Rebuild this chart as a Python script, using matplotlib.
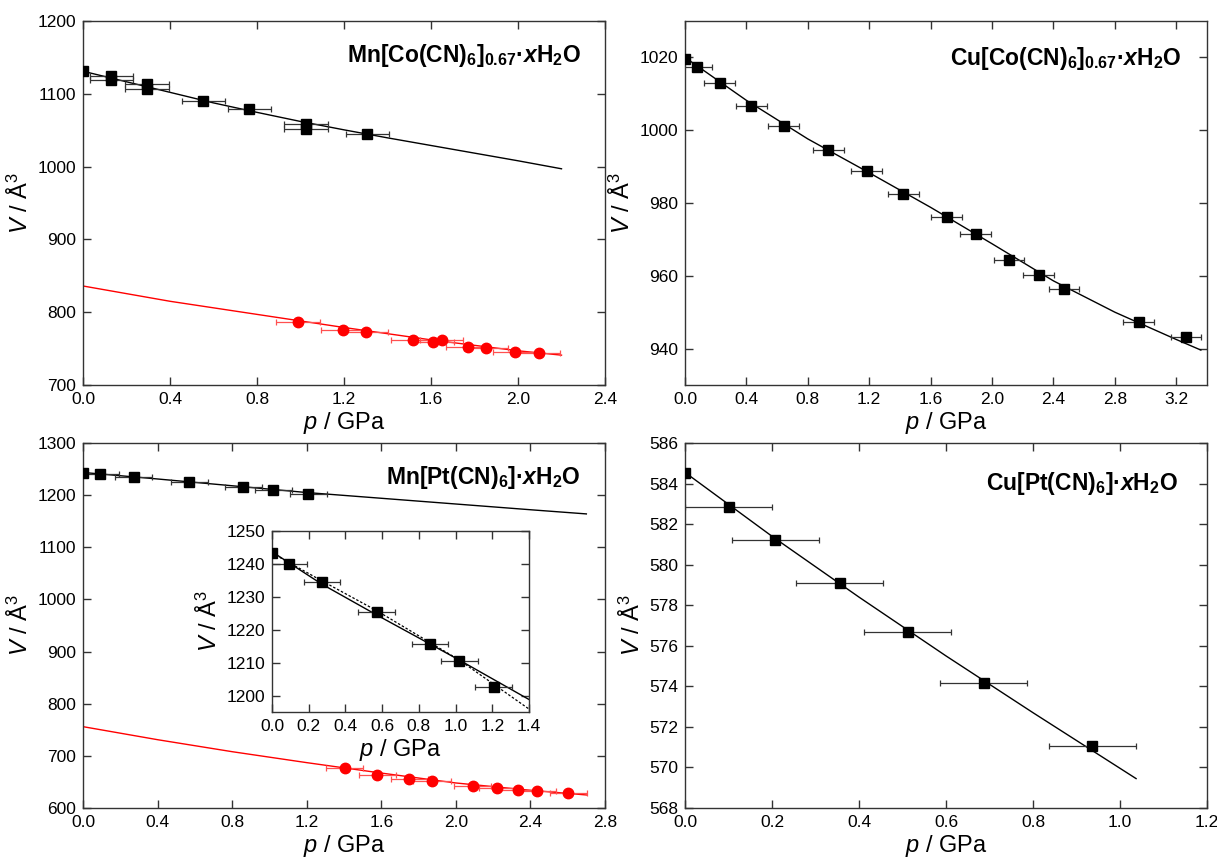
import matplotlib.pyplot as plt
from matplotlib.ticker import FormatStrFormatter, MultipleLocator

# -----------------------------
# Fonts
# -----------------------------
plt.rcParams['font.family'] = ['Liberation Sans', 'DejaVu Sans']
plt.rcParams['mathtext.fontset'] = 'custom'
plt.rcParams['mathtext.rm'] = 'Liberation Sans'
plt.rcParams['mathtext.it'] = 'Liberation Sans:italic'
plt.rcParams['mathtext.bf'] = 'Liberation Sans:bold'
plt.rcParams['mathtext.bfit'] = 'Liberation Sans:italic:bold'

# -----------------------------
# Data: Mn[Co(CN)6]0.67
# -----------------------------
mnco_p = [0.0, 0.13, 0.13, 0.295, 0.295, 0.553, 0.765, 1.026, 1.026, 1.307]
mnco_v = [1131.4, 1125.0, 1119.5, 1114.0, 1106.7, 1089.8, 1079.7, 1059.0, 1051.3, 1044.5]
mnco_err = [0, 0.1, 0.1, 0.1, 0.1, 0.1, 0.1, 0.1, 0.1, 0.1]
mnco_fit_p = [0, 0.2, 0.4, 0.6, 0.8, 1.0, 1.2, 1.4, 1.6, 1.8, 2.0, 2.2]
mnco_fit_v = [1131, 1116.5, 1102, 1087.5, 1074.5, 1062, 1050.5, 1039.5, 1029, 1018.5, 1008, 997]

mnco_hp_p = [0.988, 1.195, 1.302, 1.518, 1.607, 1.649, 1.768, 1.854, 1.986, 2.095]
mnco_hp_v = [786.0, 775.0, 773.2, 762.2, 759.5, 761.8, 752.6, 751.2, 745.7, 743.5]
mnco_hp_err = [0.1] * 10
mnco_hp_fit_p = [0, 0.4, 0.8, 1.2, 1.6, 2.0, 2.2]
mnco_hp_fit_v = [836, 815, 797, 779, 762, 747, 741]

# -----------------------------
# Data: Cu[Co(CN)6]0.67
# -----------------------------
cuco_p = [0.0, 0.077, 0.225, 0.433, 0.643, 0.934, 1.183, 1.423, 1.705, 1.894,
          2.110, 2.304, 2.468, 2.954, 3.264]
cuco_v = [1019.5, 1017.5, 1013.0, 1006.6, 1001.1, 994.5, 988.9, 982.6, 976.2, 971.4,
          964.3, 960.2, 956.5, 947.3, 943.3]
cuco_err = [0] + [0.1] * 14
cuco_fit_p = [0, 0.4, 0.8, 1.2, 1.6, 2.0, 2.4, 2.8, 3.2, 3.36]
cuco_fit_v = [1020, 1008.2, 997.6, 988.3, 978.8, 968.8, 958.6, 950.0, 942.5, 939.6]

# -----------------------------
# Data: Mn[Pt(CN)6]
# -----------------------------
mnpt_p = [0.0, 0.091, 0.272, 0.571, 0.860, 1.021, 1.208]
mnpt_v = [1243.2, 1240.1, 1234.6, 1225.3, 1215.7, 1210.5, 1202.6]
mnpt_err = [0, 0.1, 0.1, 0.1, 0.1, 0.1, 0.1]
mnpt_fit_p = [0, 0.4, 0.8, 1.2, 1.6, 2.0, 2.4, 2.7]
mnpt_fit_v = [1243.5, 1231, 1218, 1205, 1194, 1183, 1172, 1164]

mnpt_hp_p = [1.404, 1.578, 1.750, 1.872, 2.091, 2.222, 2.332, 2.436, 2.603]
mnpt_hp_v = [676.9, 664.0, 655.1, 651.2, 642.9, 638.4, 635.2, 633.3, 628.8]
mnpt_hp_err = [0.1] * 9
mnpt_hp_fit_p = [0, 0.4, 0.8, 1.2, 1.6, 2.0, 2.4, 2.7]
mnpt_hp_fit_v = [756, 731, 708, 687, 667, 648, 634, 625]

# inset fits
inset_solid_p = [0, 0.27, 0.57, 1.02, 1.4]
inset_solid_v = [1243.7, 1233.9, 1224.5, 1210.8, 1198.8]
inset_dash_p = [0, 0.27, 0.57, 1.02, 1.4]
inset_dash_v = [1243.3, 1234.9, 1225.8, 1210.8, 1195.9]

# -----------------------------
# Data: Cu[Pt(CN)6]
# -----------------------------
cupt_p = [0.0, 0.101, 0.207, 0.356, 0.512, 0.687, 0.936]
cupt_v = [584.50, 582.85, 581.24, 579.08, 576.66, 574.15, 571.07]
cupt_err = [0, 0.1, 0.1, 0.1, 0.1, 0.1, 0.1]
cupt_fit_p = [0, 0.2, 0.4, 0.6, 0.8, 1.037]
cupt_fit_v = [584.55, 581.4, 578.4, 575.5, 572.7, 569.45]

W, H = 1217, 859
fig = plt.figure(figsize=(W / 100, H / 100), dpi=100)


def make_axes(left, right, top, bottom):
    return fig.add_axes([left / W, 1 - bottom / H, (right - left) / W, (bottom - top) / H])


def style(ax, xlim, xstep, ylim, ystep, fmt_y='%d', tick_fs=12.5, lab_fs=17):
    ax.set_xlim(*xlim)
    ax.set_ylim(*ylim)
    ax.xaxis.set_major_locator(MultipleLocator(xstep))
    ax.yaxis.set_major_locator(MultipleLocator(ystep))
    ax.xaxis.set_major_formatter(FormatStrFormatter('%.1f'))
    ax.yaxis.set_major_formatter(FormatStrFormatter(fmt_y))
    ax.tick_params(direction='in', top=True, right=True, length=5.5, width=1,
                   labelsize=tick_fs, color='#333333', pad=5)
    for s in ax.spines.values():
        s.set_color('#333333')
        s.set_linewidth(1.0)
    ax.set_xlabel(r'$p$ / GPa', fontsize=lab_fs, labelpad=2)
    ax.set_ylabel(r'$V$ / Å$^3$', fontsize=lab_fs, labelpad=3)


def black_set(ax, p, v, err, fp, fv, ms=6.5):
    ax.plot(fp, fv, color='black', lw=1.0, zorder=2)
    ax.errorbar(p, v, xerr=err, fmt='none', ecolor='#333333', elinewidth=0.9,
                capsize=2.5, capthick=0.9, zorder=3)
    ax.plot(p, v, 's', color='black', ms=ms, zorder=4)


def red_set(ax, p, v, err, fp, fv):
    ax.plot(fp, fv, color='#ff0000', lw=1.0, zorder=2)
    ax.errorbar(p, v, xerr=err, fmt='none', ecolor='#ff5050', elinewidth=0.9,
                capsize=2.5, capthick=0.9, zorder=3)
    ax.plot(p, v, 'o', color='#ff0000', ms=7.5, zorder=4)


def label(ax, text, x, y):
    ax.text(x, y, text, transform=ax.transAxes, ha='right', va='center', fontsize=16.5)


# -----------------------------
# Top left
# -----------------------------
ax1 = make_axes(83, 605, 21, 385)
red_set(ax1, mnco_hp_p, mnco_hp_v, mnco_hp_err, mnco_hp_fit_p, mnco_hp_fit_v)
black_set(ax1, mnco_p, mnco_v, mnco_err, mnco_fit_p, mnco_fit_v)
style(ax1, (0, 2.4), 0.4, (700, 1200), 100)
label(ax1, r'$\mathbf{Mn[Co(CN)_6]_{0.67}·}\boldsymbol{x}\mathbf{H_2O}$', 0.955, 0.905)

# -----------------------------
# Top right
# -----------------------------
ax2 = make_axes(685, 1207, 21, 385)
black_set(ax2, cuco_p, cuco_v, cuco_err, cuco_fit_p, cuco_fit_v)
style(ax2, (0, 3.4), 0.4, (930, 1030), 20)
label(ax2, r'$\mathbf{Cu[Co(CN)_6]_{0.67}·}\boldsymbol{x}\mathbf{H_2O}$', 0.952, 0.897)

# -----------------------------
# Bottom left
# -----------------------------
ax3 = make_axes(83, 605, 443, 808)
red_set(ax3, mnpt_hp_p, mnpt_hp_v, mnpt_hp_err, mnpt_hp_fit_p, mnpt_hp_fit_v)
black_set(ax3, mnpt_p, mnpt_v, mnpt_err, mnpt_fit_p, mnpt_fit_v)
style(ax3, (0, 2.8), 0.4, (600, 1300), 100)
label(ax3, r'$\mathbf{Mn[Pt(CN)_6]·}\boldsymbol{x}\mathbf{H_2O}$', 0.953, 0.906)

# inset
axi = make_axes(272, 529, 531, 712)
axi.plot(inset_solid_p, inset_solid_v, color='black', lw=1.0, zorder=2)
axi.plot(inset_dash_p, inset_dash_v, color='black', lw=0.9, ls=(0, (2, 1.5)), zorder=2)
axi.errorbar(mnpt_p, mnpt_v, xerr=mnpt_err, fmt='none', ecolor='#333333', elinewidth=0.9,
             capsize=2.5, capthick=0.9, zorder=3)
axi.plot(mnpt_p, mnpt_v, 's', color='black', ms=6.5, zorder=4)
style(axi, (0, 1.4), 0.2, (1195, 1250), 10)

# -----------------------------
# Bottom right
# -----------------------------
ax4 = make_axes(685, 1207, 443, 808)
black_set(ax4, cupt_p, cupt_v, cupt_err, cupt_fit_p, cupt_fit_v)
style(ax4, (0, 1.2), 0.2, (568, 586), 2)
label(ax4, r'$\mathbf{Cu[Pt(CN)_6]·}\boldsymbol{x}\mathbf{H_2O}$', 0.945, 0.89)

fig.savefig('out.png', dpi=100)
